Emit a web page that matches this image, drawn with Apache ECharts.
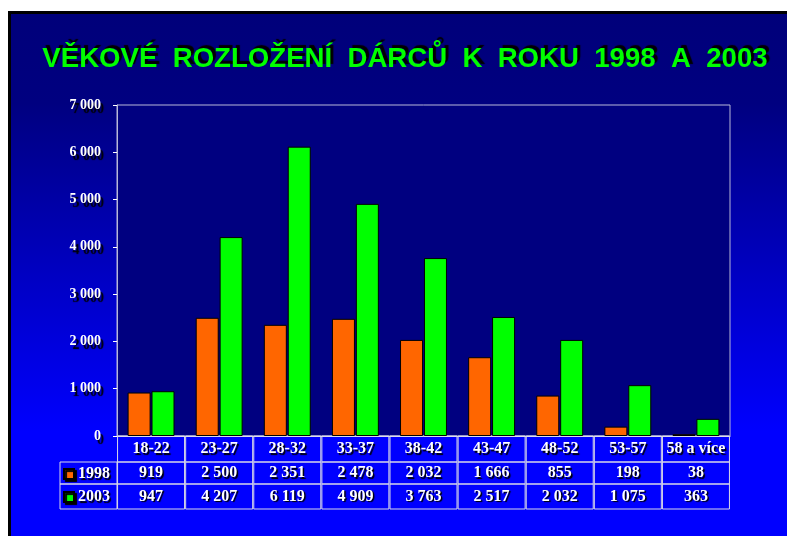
<!DOCTYPE html>
<html lang="cs">
<head>
    <meta charset="UTF-8">
    <title>Věkové rozložení dárců</title>
    <script src="https://cdn.jsdelivr.net/npm/echarts@6/dist/echarts.min.js"></script>
    <style>
        body { margin: 0; background: #fff; }
        .bg {
            position: absolute; left: 8px; top: 11px; right: 0; bottom: 0;
            border-left: 3px solid #000; border-top: 3px solid #000;
            background: linear-gradient(to bottom, #00007a 0%, #000080 17%, #0000ff 80%, #0000ff 100%);
        }
        #main { position: absolute; left: 0; top: 0; width: 787px; height: 536px; }
    </style>
</head>
<body>
<div class="bg"></div>
<div id="main"></div>
<script>
    var categories = ['18-22', '23-27', '28-32', '33-37', '38-42', '43-47', '48-52', '53-57', '58 a více'];
    var donors1998 = [919, 2500, 2351, 2478, 2032, 1666, 855, 198, 38];
    var donors2003 = [947, 4207, 6119, 4909, 3763, 2517, 2032, 1075, 363];
    var yearNames = ['1998', '2003'];

    function fmt(n) {
        return String(n).replace(/\B(?=(\d{3})+(?!\d))/g, ' ');
    }

    var serif = '"Liberation Serif", "Times New Roman", serif';
    var shadow = { textShadowColor: '#000', textShadowOffsetX: 1.5, textShadowOffsetY: 1.5, textShadowBlur: 1 };
    var cellText = Object.assign({
        color: '#fff', fontFamily: serif, fontWeight: 'bold', fontSize: 16,
        width: 67, align: 'center', borderColor: '#d8d8e8', borderWidth: 1
    }, shadow);

    var chart = echarts.init(document.getElementById('main'));
    chart.setOption({
        backgroundColor: 'transparent',
        animation: false,
        title: {
            text: 'VĚKOVÉ  ROZLOŽENÍ  DÁRCŮ  K  ROKU  1998  A  2003',
            left: 400, top: 40, textAlign: 'center',
            textStyle: {
                color: '#00ff00', fontFamily: '"Liberation Sans", Arial, sans-serif',
                fontWeight: 'bold', fontSize: 27.6,
                textShadowColor: '#000', textShadowOffsetX: 3, textShadowOffsetY: -3, textShadowBlur: 1
            }
        },
        legend: {
            data: yearNames, orient: 'vertical', left: 63, top: 466, padding: 0,
            itemWidth: 10, itemHeight: 10, itemGap: 7, icon: 'rect',
            itemStyle: { shadowColor: '#000', shadowOffsetX: 2, shadowOffsetY: 2, shadowBlur: 1 },
            textStyle: Object.assign({
                color: '#fff', fontFamily: serif, fontWeight: 'bold', fontSize: 16, padding: [0, 0, 0, -1]
            }, shadow)
        },
        grid: {
            left: 117, top: 105, right: 57, bottom: 100,
            show: true, backgroundColor: '#000080', borderColor: '#b8b8d8', borderWidth: 1
        },
        xAxis: {
            type: 'category', data: categories,
            axisLine: { lineStyle: { color: '#e0e0f0', width: 1 } },
            axisTick: { show: false },
            axisLabel: {
                interval: 0, margin: 0,
                formatter: function (v, i) {
                    return '{h|' + v + '}\n{a|' + fmt(donors1998[i]) + '}\n{b|' + fmt(donors2003[i]) + '}';
                },
                rich: {
                    h: Object.assign({}, cellText, { height: 26, lineHeight: 26 }),
                    a: Object.assign({}, cellText, { height: 22, lineHeight: 22 }),
                    b: Object.assign({}, cellText, { height: 25, lineHeight: 25 })
                }
            }
        },
        yAxis: {
            type: 'value', min: 0, max: 7000, interval: 1000,
            splitLine: { show: false },
            axisLine: { show: true, lineStyle: { color: '#b8b8d8' } },
            axisTick: { show: true, length: 4, lineStyle: { color: '#fff' } },
            axisLabel: {
                margin: 16, color: '#fff', fontFamily: serif, fontWeight: 'bold', fontSize: 14,
                formatter: function (v) { return fmt(v); },
                textShadowColor: '#000', textShadowOffsetX: 3, textShadowOffsetY: 4, textShadowBlur: 1
            }
        },
        graphic: [
            { type: 'rect', shape: { x: 60, y: 462, width: 57, height: 22 }, style: { fill: 'none', stroke: '#d8d8e8', lineWidth: 1 } },
            { type: 'rect', shape: { x: 60, y: 484, width: 57, height: 25 }, style: { fill: 'none', stroke: '#d8d8e8', lineWidth: 1 } }
        ],
        series: [
            {
                name: yearNames[0], type: 'bar', data: donors1998,
                barWidth: 23, barGap: '4%',
                itemStyle: { color: '#ff6600', borderColor: '#000', borderWidth: 1 }
            },
            {
                name: yearNames[1], type: 'bar', data: donors2003,
                barWidth: 23,
                itemStyle: { color: '#00ff00', borderColor: '#000', borderWidth: 1 }
            }
        ]
    });
</script>
</body>
</html>
